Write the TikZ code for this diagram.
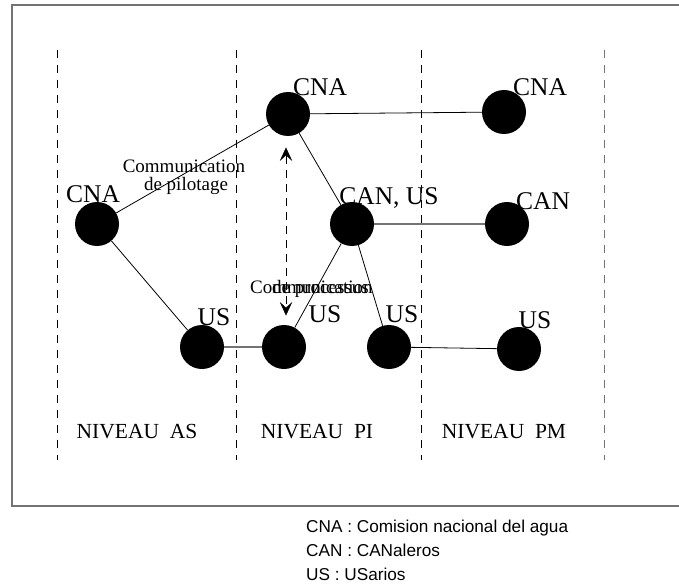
\documentclass[tikz,border=0pt]{standalone}
\usepackage{fontspec}
\setmainfont{Liberation Serif}
\newfontfamily\legfont{Liberation Sans}
\usetikzlibrary{calc}
\begin{document}
\begin{tikzpicture}[x=1pt,y=-1pt,
  actor/.style={circle,fill=black,draw=none,minimum size=44pt,inner sep=0pt},
  lbl/.style={inner sep=0pt,font=\fontsize{25.5}{27}\selectfont},
  lvl/.style={inner sep=0pt,font=\fontsize{21.5}{24}\selectfont},
  com/.style={inner sep=0pt,font=\fontsize{19}{21}\selectfont},
  leg/.style={inner sep=0pt,anchor=base west,font=\legfont\fontsize{17.2}{20}\selectfont},
  link/.style={draw=black,line width=0.8pt},
  glink/.style={draw=black!55,line width=1.4pt},
  sep/.style={draw=black,line width=0.8pt,dash pattern=on 8pt off 7pt},
  frame/.style={draw=black!55,line width=1.4pt},
  chevfill/.style={fill=black,draw=black,line width=0.5pt,line join=miter}]
\useasboundingbox (0,0) rectangle (679,585);
% frame
\draw[frame] (690,5) -- (12,5) -- (12,506) -- (690,506);
% level separators
\draw[sep] (57,50) -- (57,460);
\draw[sep] (236,50) -- (236,460);
\draw[sep] (421,50) -- (421,460);
\draw[sep,draw=black!55] (604,50) -- (604,460);
% actors
\node[actor] (cnaAS) at (97,224) {};
\node[actor] (usAS) at (202,347) {};
\node[actor] (cnaPI) at (288,114) {};
\node[actor] (canPI) at (352,224) {};
\node[actor] (usPI) at (284,347) {};
\node[actor] (usPI2) at (389,347) {};
\node[actor] (cnaPM) at (504,112) {};
\node[actor] (canPM) at (507,224) {};
\node[actor] (usPM) at (519,349) {};
% links
\draw[link] (cnaPI) -- (cnaPM);
\draw[link] (cnaPI) -- (canPI);
\draw[link] (cnaPI) -- (cnaAS);
\draw[link] (cnaAS) -- (usAS);
\draw[glink] (usAS) -- (usPI);
\draw[glink] (canPI) -- (canPM);
\draw[link] (canPI) -- (usPI);
\draw[link] (canPI) -- (usPI2);
\draw[link] (usPI2) -- (usPM);
% process communication arrow
\coordinate (ptop) at (286,148);
\coordinate (pbot) at (286,315);
\draw[line width=0.8pt,dash pattern=on 8pt off 6pt] ($(ptop)+(0,8)$) -- ($(pbot)+(0,-8)$);
\fill[chevfill] (ptop) -- ++(5.5,12) -- ++(-5.5,-5) -- ++(-5.5,5) -- cycle;
\fill[chevfill] (pbot) -- ++(5.5,-12) -- ++(-5.5,5) -- ++(-5.5,-5) -- cycle;
% labels
\node[lbl] (tCnaPI) at (320,87) {CNA};
\node[lbl] (tCnaPM) at (540,87) {CNA};
\node[lbl] (tCanPI) at (389,198) {CAN, US};
\node[lbl] (tCanPM) at (543,201) {CAN};
\node[lbl] (tCnaAS) at (93,194) {CNA};
\node[lbl] (tUsAS) at (214,317) {US};
\node[lbl] (tUsPI) at (325,314) {US};
\node[lbl] (tUsPI2) at (402,314) {US};
\node[lbl] (tUsPM) at (535,320) {US};
% communication labels
\node[com,anchor=base] (pil1) at (184,173) {Communication};
\node[com,anchor=base] (pil2) at (186,191) {de pilotage};
\node[com,anchor=base west] (pro1) at (250,293) {Communication};
\node[com,anchor=base west] (pro2) at (272,293) {de processus};
% level names
\node[lvl] (nAS) at (137,432) {NIVEAU\ \ AS};
\node[lvl] (nPI) at (317,432) {NIVEAU\ \ PI};
\node[lvl] (nPM) at (504,432) {NIVEAU\ \ PM};
% legend
\node[leg] (leg1) at (306,532) {CNA : Comision nacional del agua};
\node[leg] (leg2) at (306,556) {CAN : CANaleros};
\node[leg] (leg3) at (306,580) {US : USarios};
\end{tikzpicture}
\end{document}
